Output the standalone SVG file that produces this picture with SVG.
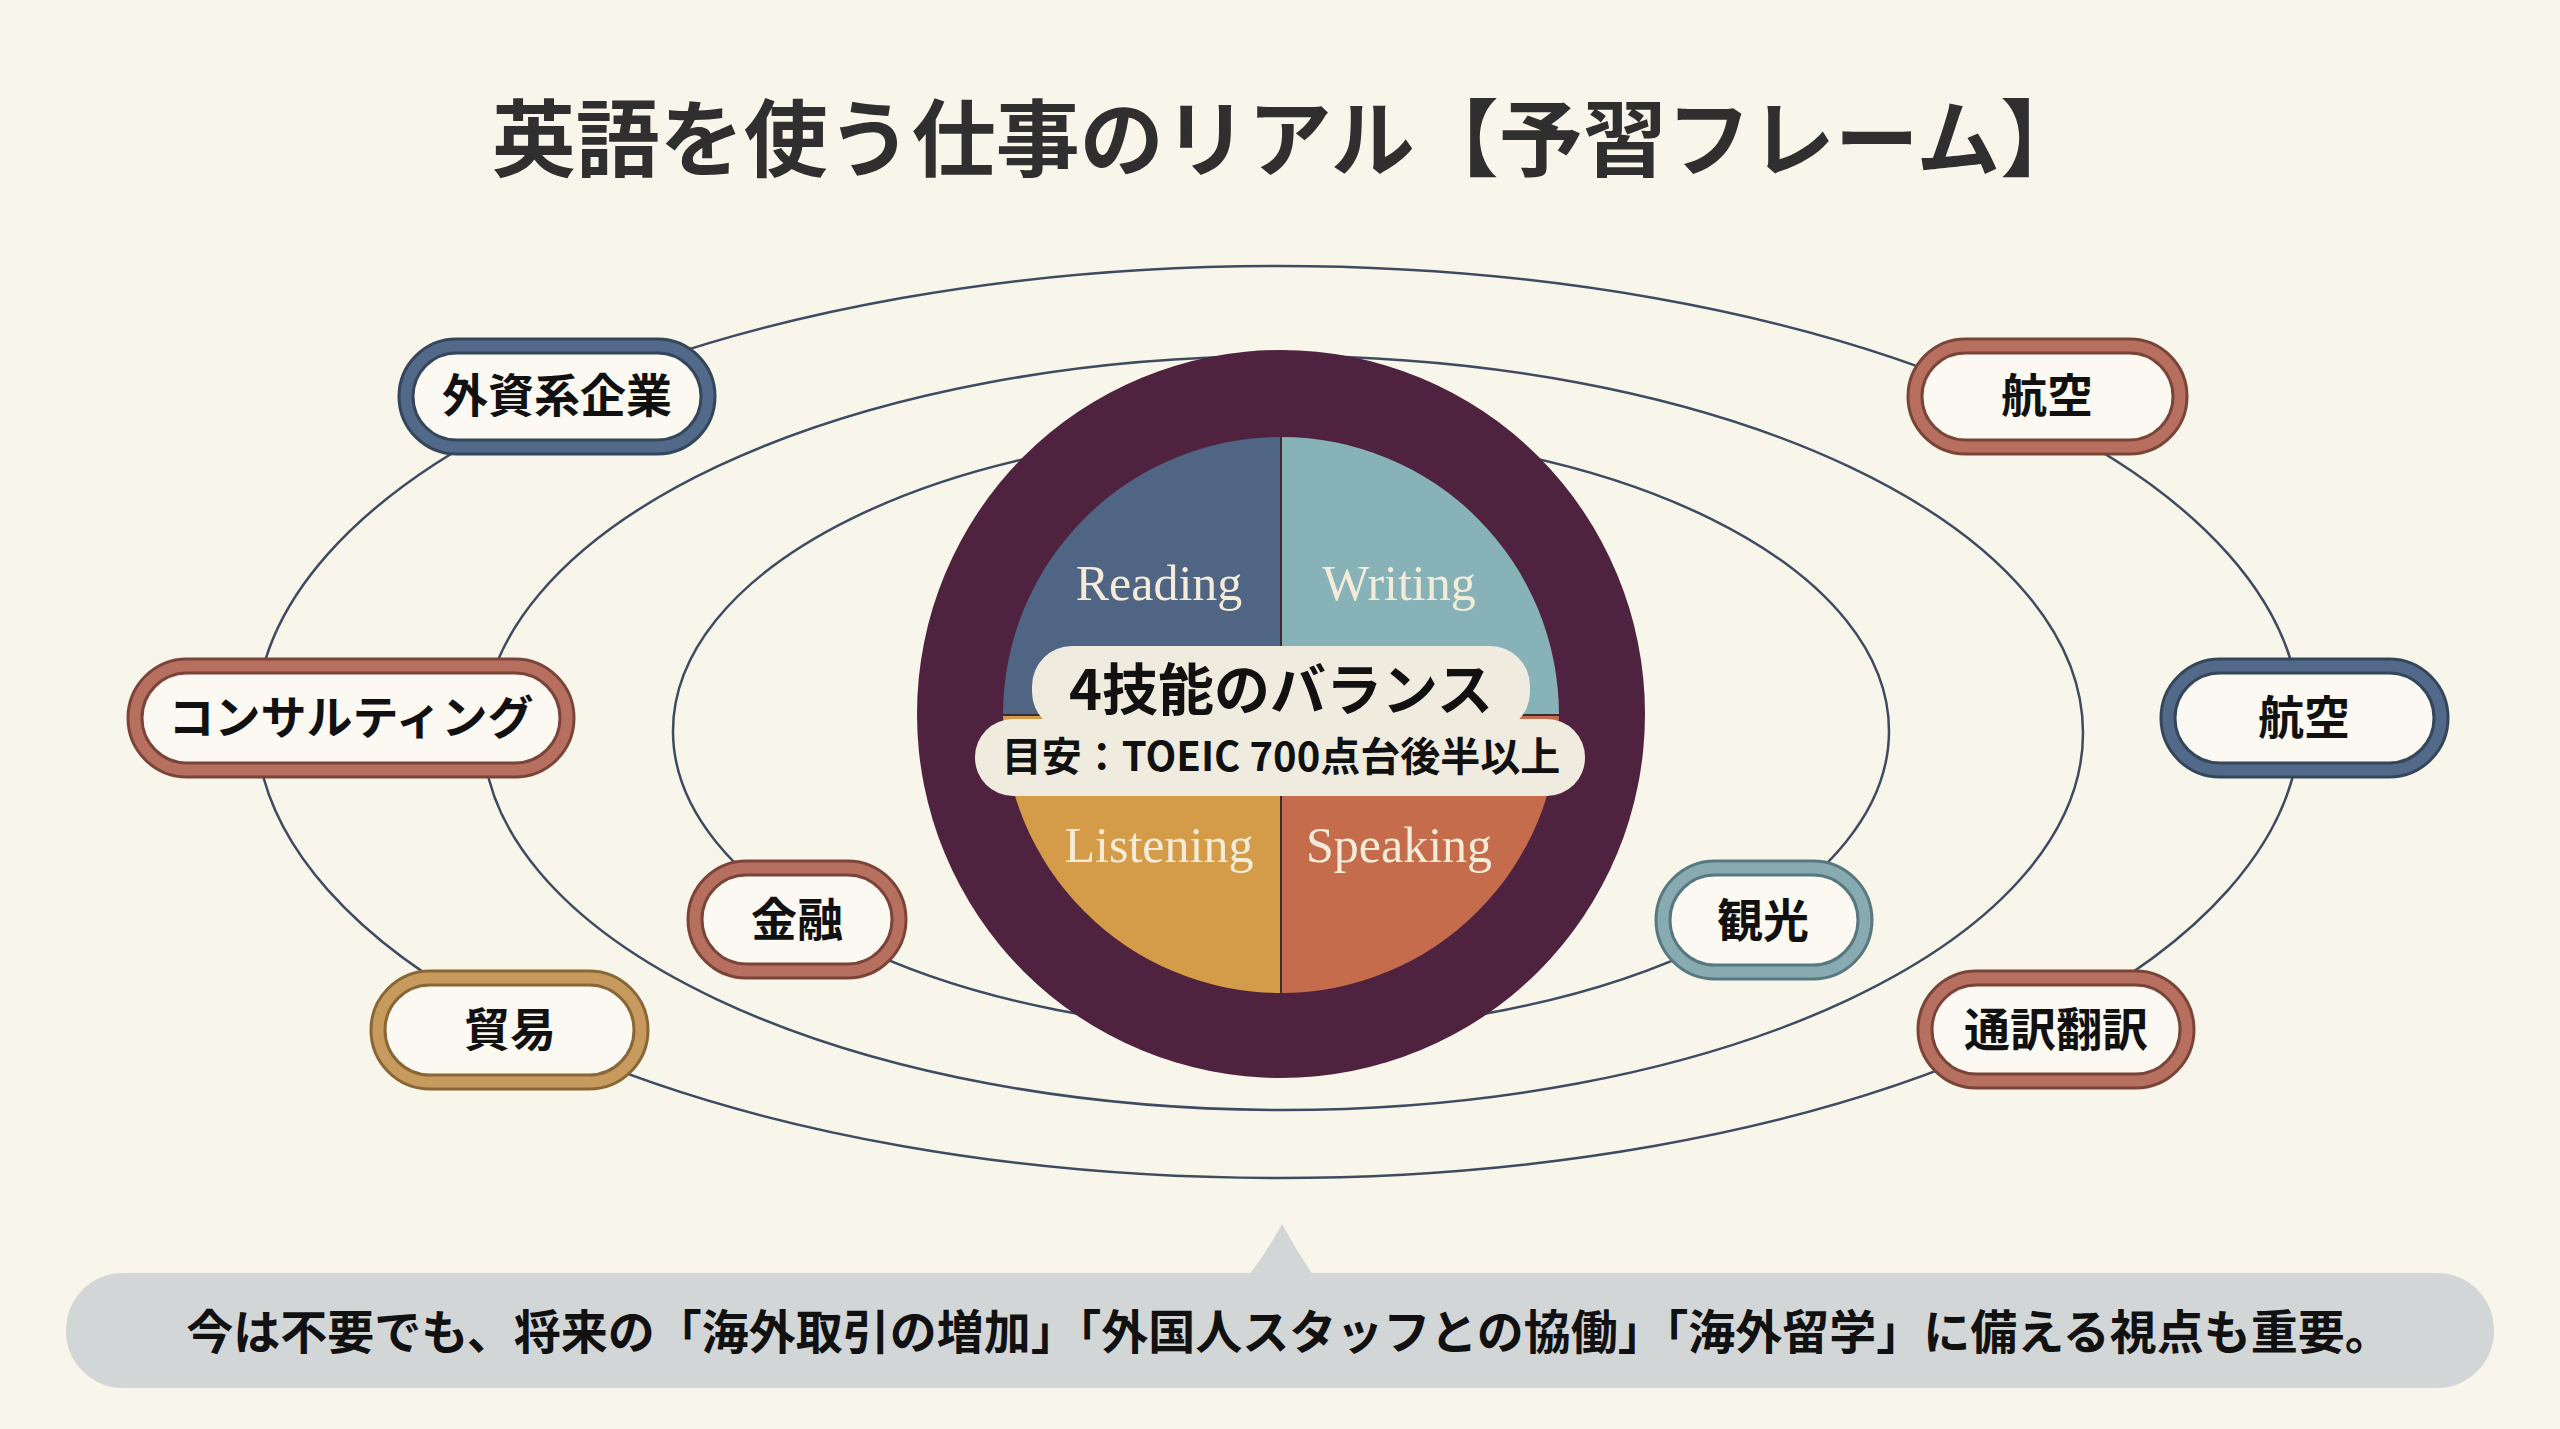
<svg xmlns="http://www.w3.org/2000/svg" width="2560" height="1429" viewBox="0 0 2560 1429">
<style>
.orbit{fill:none;stroke:#3f4b60;stroke-width:2.5}
.edge{fill:#fbf9f2;stroke-width:17}
.ring{fill:none;stroke-width:11}
.lbl{font-family:"Noto Sans CJK JP","Noto Sans",sans-serif;font-weight:700;font-size:46px;fill:#111;text-anchor:middle}
.skill{font-family:"Liberation Serif","DejaVu Serif",serif;font-size:50px;fill:#f4ecd8;text-anchor:middle}
.blue .edge{stroke:#34465a}.blue .ring{stroke:#52698a}
.rose .edge{stroke:#7a4538}.rose .ring{stroke:#b77060}
.teal .edge{stroke:#587880}.teal .ring{stroke:#88abb2}
.gold .edge{stroke:#8a6535}.gold .ring{stroke:#c79b5e}
</style>
<rect x="0" y="0" width="2560" height="1429" fill="#f8f5ea"/>
<text x="1288" y="170" font-family="'Noto Sans CJK JP','Noto Sans',sans-serif" font-weight="700" font-size="84" fill="#2f2f2f" text-anchor="middle">英語を使う仕事のリアル【予習フレーム】</text>

<g id="connectors">
<ellipse class="orbit" cx="1278" cy="722" rx="1022" ry="456"/>
<ellipse class="orbit" cx="1283" cy="733" rx="800" ry="377"/>
<ellipse class="orbit" cx="1281" cy="731" rx="608" ry="300"/>
</g>

<g id="center">
<circle cx="1281" cy="714" r="364" fill="#4f2340"/>
<path d="M1281,715 L1003,715 A278,278 0 0 1 1281,437 Z" fill="#4f6583"/>
<path d="M1281,715 L1281,437 A278,278 0 0 1 1559,715 Z" fill="#86b2b8"/>
<path d="M1281,715 L1559,715 A278,278 0 0 1 1281,993 Z" fill="#c46c4b"/>
<path d="M1281,715 L1281,993 A278,278 0 0 1 1003,715 Z" fill="#d49c48"/>
<line x1="1281" y1="437" x2="1281" y2="993" stroke="#3d2b33" stroke-width="2"/>
<line x1="1003" y1="715" x2="1559" y2="715" stroke="#3d2b33" stroke-width="2"/>
<text class="skill" x="1159" y="600">Reading</text>
<text class="skill" x="1399" y="600">Writing</text>
<text class="skill" x="1159" y="862">Listening</text>
<text class="skill" x="1399" y="862">Speaking</text>
<rect x="1032" y="646" width="498" height="86" rx="40" fill="#f0ebdf"/>
<rect x="975" y="719" width="610" height="77" rx="38" fill="#f0ebdf"/>
<text x="1281" y="710" font-family="'Noto Sans CJK JP','Noto Sans',sans-serif" font-weight="700" font-size="56" fill="#111" text-anchor="middle">4技能のバランス</text>
<text x="1281" y="771" font-family="'Noto Sans CJK JP','Noto Sans',sans-serif" font-weight="700" font-size="40" fill="#111" text-anchor="middle">目安：TOEIC 700点台後半以上</text>
</g>

<g id="node-gaishikei" class="blue">
<rect class="edge" x="406" y="346" width="302" height="101" rx="50.5"/>
<rect class="ring" x="406" y="346" width="302" height="101" rx="50.5"/>
<text class="lbl" x="557" y="412">外資系企業</text>
</g>
<g id="node-consulting" class="rose">
<rect class="edge" x="135" y="666" width="432" height="104" rx="52"/>
<rect class="ring" x="135" y="666" width="432" height="104" rx="52"/>
<text class="lbl" x="351" y="734">コンサルティング</text>
</g>
<g id="node-koku1" class="rose">
<rect class="edge" x="1915" y="346" width="265" height="101" rx="50.5"/>
<rect class="ring" x="1915" y="346" width="265" height="101" rx="50.5"/>
<text class="lbl" x="2047" y="412">航空</text>
</g>
<g id="node-koku2" class="blue">
<rect class="edge" x="2168" y="666" width="273" height="104" rx="52"/>
<rect class="ring" x="2168" y="666" width="273" height="104" rx="52"/>
<text class="lbl" x="2304" y="734">航空</text>
</g>
<g id="node-kinyu" class="rose">
<rect class="edge" x="695" y="868" width="204" height="103" rx="51.5"/>
<rect class="ring" x="695" y="868" width="204" height="103" rx="51.5"/>
<text class="lbl" x="797" y="936">金融</text>
</g>
<g id="node-kanko" class="teal">
<rect class="edge" x="1663" y="868" width="202" height="104" rx="52"/>
<rect class="ring" x="1663" y="868" width="202" height="104" rx="52"/>
<text class="lbl" x="1763" y="937">観光</text>
</g>
<g id="node-boeki" class="gold">
<rect class="edge" x="378" y="978" width="263" height="104" rx="52"/>
<rect class="ring" x="378" y="978" width="263" height="104" rx="52"/>
<text class="lbl" x="510" y="1046">貿易</text>
</g>
<g id="node-tsuyaku" class="rose">
<rect class="edge" x="1925" y="978" width="262" height="103" rx="51.5"/>
<rect class="ring" x="1925" y="978" width="262" height="103" rx="51.5"/>
<text class="lbl" x="2056" y="1046">通訳翻訳</text>
</g>

<g id="callout">
<path d="M1249,1275 Q1268,1250 1282,1224 Q1296,1250 1313,1275 Z" fill="#d3d6d6"/>
<rect x="66" y="1273" width="2428" height="115" rx="57" fill="#d3d6d6"/>
<text x="1289" y="1349" font-family="'Noto Sans CJK JP','Noto Sans',sans-serif" font-weight="700" font-size="47" fill="#111" text-anchor="middle">今は不要でも、将来の「海外取引の増加」「外国人スタッフとの協働」「海外留学」に備える視点も重要。</text>
</g>
</svg>
